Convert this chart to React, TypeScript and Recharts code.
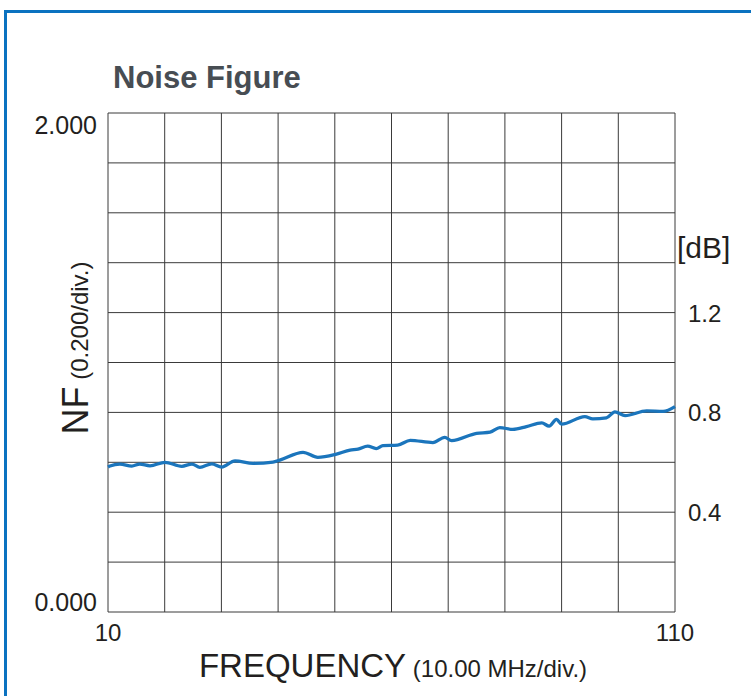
import { LineChart, Line, XAxis, YAxis, CartesianGrid } from "recharts"

const freqs = [
  10, 10.35, 12.1, 14.2, 15.6, 17.4, 20.05, 23.0, 24.8, 26.2, 28.3, 30.05, 32.4, 35.6, 39.1, 40.3, 44.4, 47.0,
  50.3, 52.7, 54.1, 55.8, 57.3, 58.5, 61.1, 63.3, 67.3, 69.4, 70.6, 75.0, 77.4, 79.1, 81.4, 83.8, 86.5, 87.8,
  89.1, 90.0, 94.1, 95.5, 97.9, 99.4, 101.2, 105.0, 107.9, 110,
]
const nfValues = [
  0.581, 0.585, 0.593, 0.585, 0.593, 0.586, 0.6, 0.584, 0.593, 0.58, 0.594, 0.581, 0.606, 0.596, 0.601, 0.609,
  0.64, 0.62, 0.633, 0.649, 0.653, 0.665, 0.655, 0.667, 0.669, 0.688, 0.679, 0.7, 0.687, 0.716, 0.721, 0.739,
  0.732, 0.743, 0.758, 0.745, 0.772, 0.753, 0.783, 0.774, 0.778, 0.802, 0.787, 0.806, 0.804, 0.823,
]
const xTicks = [10, 20, 30, 40, 50, 60, 70, 80, 90, 100, 110]
const xLabels = [10, 110]
const yTicks = [0, 0.2, 0.4, 0.6, 0.8, 1.0, 1.2, 1.4, 1.6, 1.8, 2.0]
const leftLabels = [0, 2]
const rightLabels = [0.4, 0.8, 1.2]

const data = freqs.map((f, i) => ({ f, nf: nfValues[i] }))

const font = "'Liberation Sans', Arial, Helvetica, sans-serif"
const ink = "#231f20"

// left axis draws its own labels and the dB labels on the right
function YTick({ y, payload }: any) {
  const v = payload.value
  return (
    <g>
      {leftLabels.includes(v) && (
        <text x={97} y={v === 2 ? y + 21 : y - 1} textAnchor="end" fontSize={25} fill={ink} fontFamily={font}>
          {v.toFixed(3)}
        </text>
      )}
      {rightLabels.includes(v) && (
        <text x={688} y={y + 9} textAnchor="start" fontSize={24} fill={ink} fontFamily={font}>
          {v.toFixed(1)}
        </text>
      )}
    </g>
  )
}

function BottomTick({ x, payload }: any) {
  if (!xLabels.includes(payload.value)) return null
  return (
    <text x={x} y={641} textAnchor="middle" fontSize={24} fill={ink} fontFamily={font}>
      {payload.value}
    </text>
  )
}

export default function App() {
  return (
    <div style={{ position: "fixed", left: 0, top: 0, width: 751, height: 696, background: "#fff", overflow: "hidden" }}>
      <div
        style={{
          position: "absolute",
          left: 4,
          top: 10,
          width: 760,
          height: 700,
          borderTop: "3px solid #0b72c0",
          borderLeft: "3px solid #0b72c0",
        }}
      />
      <LineChart width={751} height={696} data={data} margin={{ top: 113, right: 76, bottom: 54, left: 48 }}>
        <CartesianGrid yAxisId="left" stroke="#3a3a3a" strokeWidth={1} />
        <XAxis
          dataKey="f"
          type="number"
          domain={[10, 110]}
          ticks={xTicks}
          axisLine={false}
          tickLine={false}
          height={30}
          tick={<BottomTick />}
          interval={0}
        />
        <YAxis
          yAxisId="left"
          type="number"
          domain={[0, 2]}
          ticks={yTicks}
          axisLine={false}
          tickLine={false}
          width={60}
          tick={<YTick />}
          interval={0}
        />
        <Line
          yAxisId="left"
          type="monotone"
          dataKey="nf"
          stroke="#1b75bc"
          strokeWidth={3.3}
          dot={false}
          isAnimationActive={false}
        />
        <text x={113} y={88} fontSize={31} fontWeight="bold" fill="#474d53" fontFamily={font}>
          Noise Figure
        </text>
        <text x={677} y={258} fontSize={30} fill={ink} fontFamily={font}>
          [dB]
        </text>
        <text x={88} y={348} transform="rotate(-90 88 348)" textAnchor="middle" fill={ink} fontFamily={font}>
          <tspan fontSize={36}>NF</tspan>
          <tspan fontSize={24}> (0.200/div.)</tspan>
        </text>
        <text x={393} y={677} textAnchor="middle" fill={ink} fontFamily={font}>
          <tspan fontSize={33}>FREQUENCY</tspan>
          <tspan fontSize={24}> (10.00 MHz/div.)</tspan>
        </text>
      </LineChart>
    </div>
  )
}
